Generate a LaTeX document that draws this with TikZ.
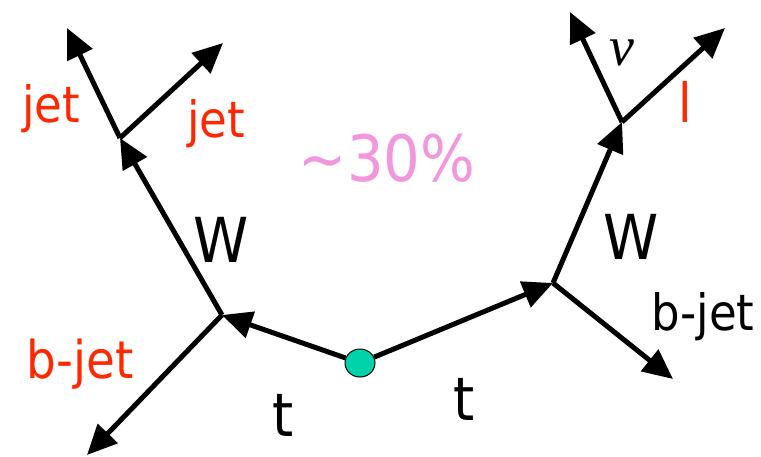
\documentclass[tikz,border=0pt]{standalone}
\usepackage{fontspec}
\setmainfont[FakeStretch=0.9]{DejaVu Sans}
\newfontfamily\greekserif{Liberation Serif}
\usetikzlibrary{arrows.meta,shapes.geometric}
\definecolor{jetred}{RGB}{255,40,0}
\definecolor{pinkish}{RGB}{242,150,222}
\definecolor{dotgreen}{RGB}{0,210,170}
\tikzset{
  line/.style={line width=5pt,-{Triangle[length=30pt,width=27pt]}},
  lbl/.style={anchor=base,inner sep=0pt,font=\fontsize{50}{60}\selectfont},
  big/.style={anchor=base,inner sep=0pt,font=\fontsize{62}{72}\selectfont},
}
\begin{document}
\begin{tikzpicture}[x=1pt,y=-1pt]
\useasboundingbox (0,0) rectangle (761,456);
% vertices
\coordinate (vL) at (222,315);
\coordinate (vR) at (553,283);
\coordinate (jL) at (120,138);
\coordinate (jR) at (622,122);
\coordinate (tj1) at (67,28);
\coordinate (tj2) at (223,43);
\coordinate (tbL) at (87,455);
\coordinate (tnu) at (570,12);
\coordinate (tl) at (725,28);
\coordinate (tbR) at (673,379);
\node[ellipse,draw=black,line width=1pt,fill=dotgreen,minimum width=30pt,minimum height=28pt,inner sep=0pt] (dot) at (360,363) {};
% connectors
\draw[line] (dot) -- (vL);
\draw[line] (dot) -- (vR);
\draw[line] (vL) -- (jL);
\draw[line] (vR) -- (jR);
\draw[line] (jL) -- (tj1);
\draw[line] (jL) -- (tj2);
\draw[line] (vL) -- (tbL);
\draw[line] (jR) -- (tnu);
\draw[line] (jR) -- (tl);
\draw[line] (vR) -- (tbR);
% labels
\node[lbl,text=jetred] (ljet1) at (51,122) {jet};
\node[lbl,text=jetred] (ljet2) at (216,137) {jet};
\node[big,text=pinkish,font=\fontsize{64}{74}\selectfont] (pct) at (387,181) {∼30\%};
\node[big] (W1) at (221,262) {W};
\node[big] (W2) at (631,259) {W};
\node[lbl,text=jetred,font=\fontsize{52}{62}\selectfont] (bL) at (80,378) {b-jet};
\node[lbl] (bR) at (703,330) {b-jet};
\node[big,font=\fontsize{60}{70}\selectfont] (t1) at (283,436) {t};
\node[big,font=\fontsize{60}{70}\selectfont] (t2) at (464,420) {t};
\node[lbl,text=jetred,font=\fontsize{54}{64}\selectfont] (ll) at (685,122) {l};
\node[anchor=base,inner sep=0pt,font=\greekserif\itshape\fontsize{56}{66}\selectfont] (nu) at (622,65) {ν};
\end{tikzpicture}
\end{document}
